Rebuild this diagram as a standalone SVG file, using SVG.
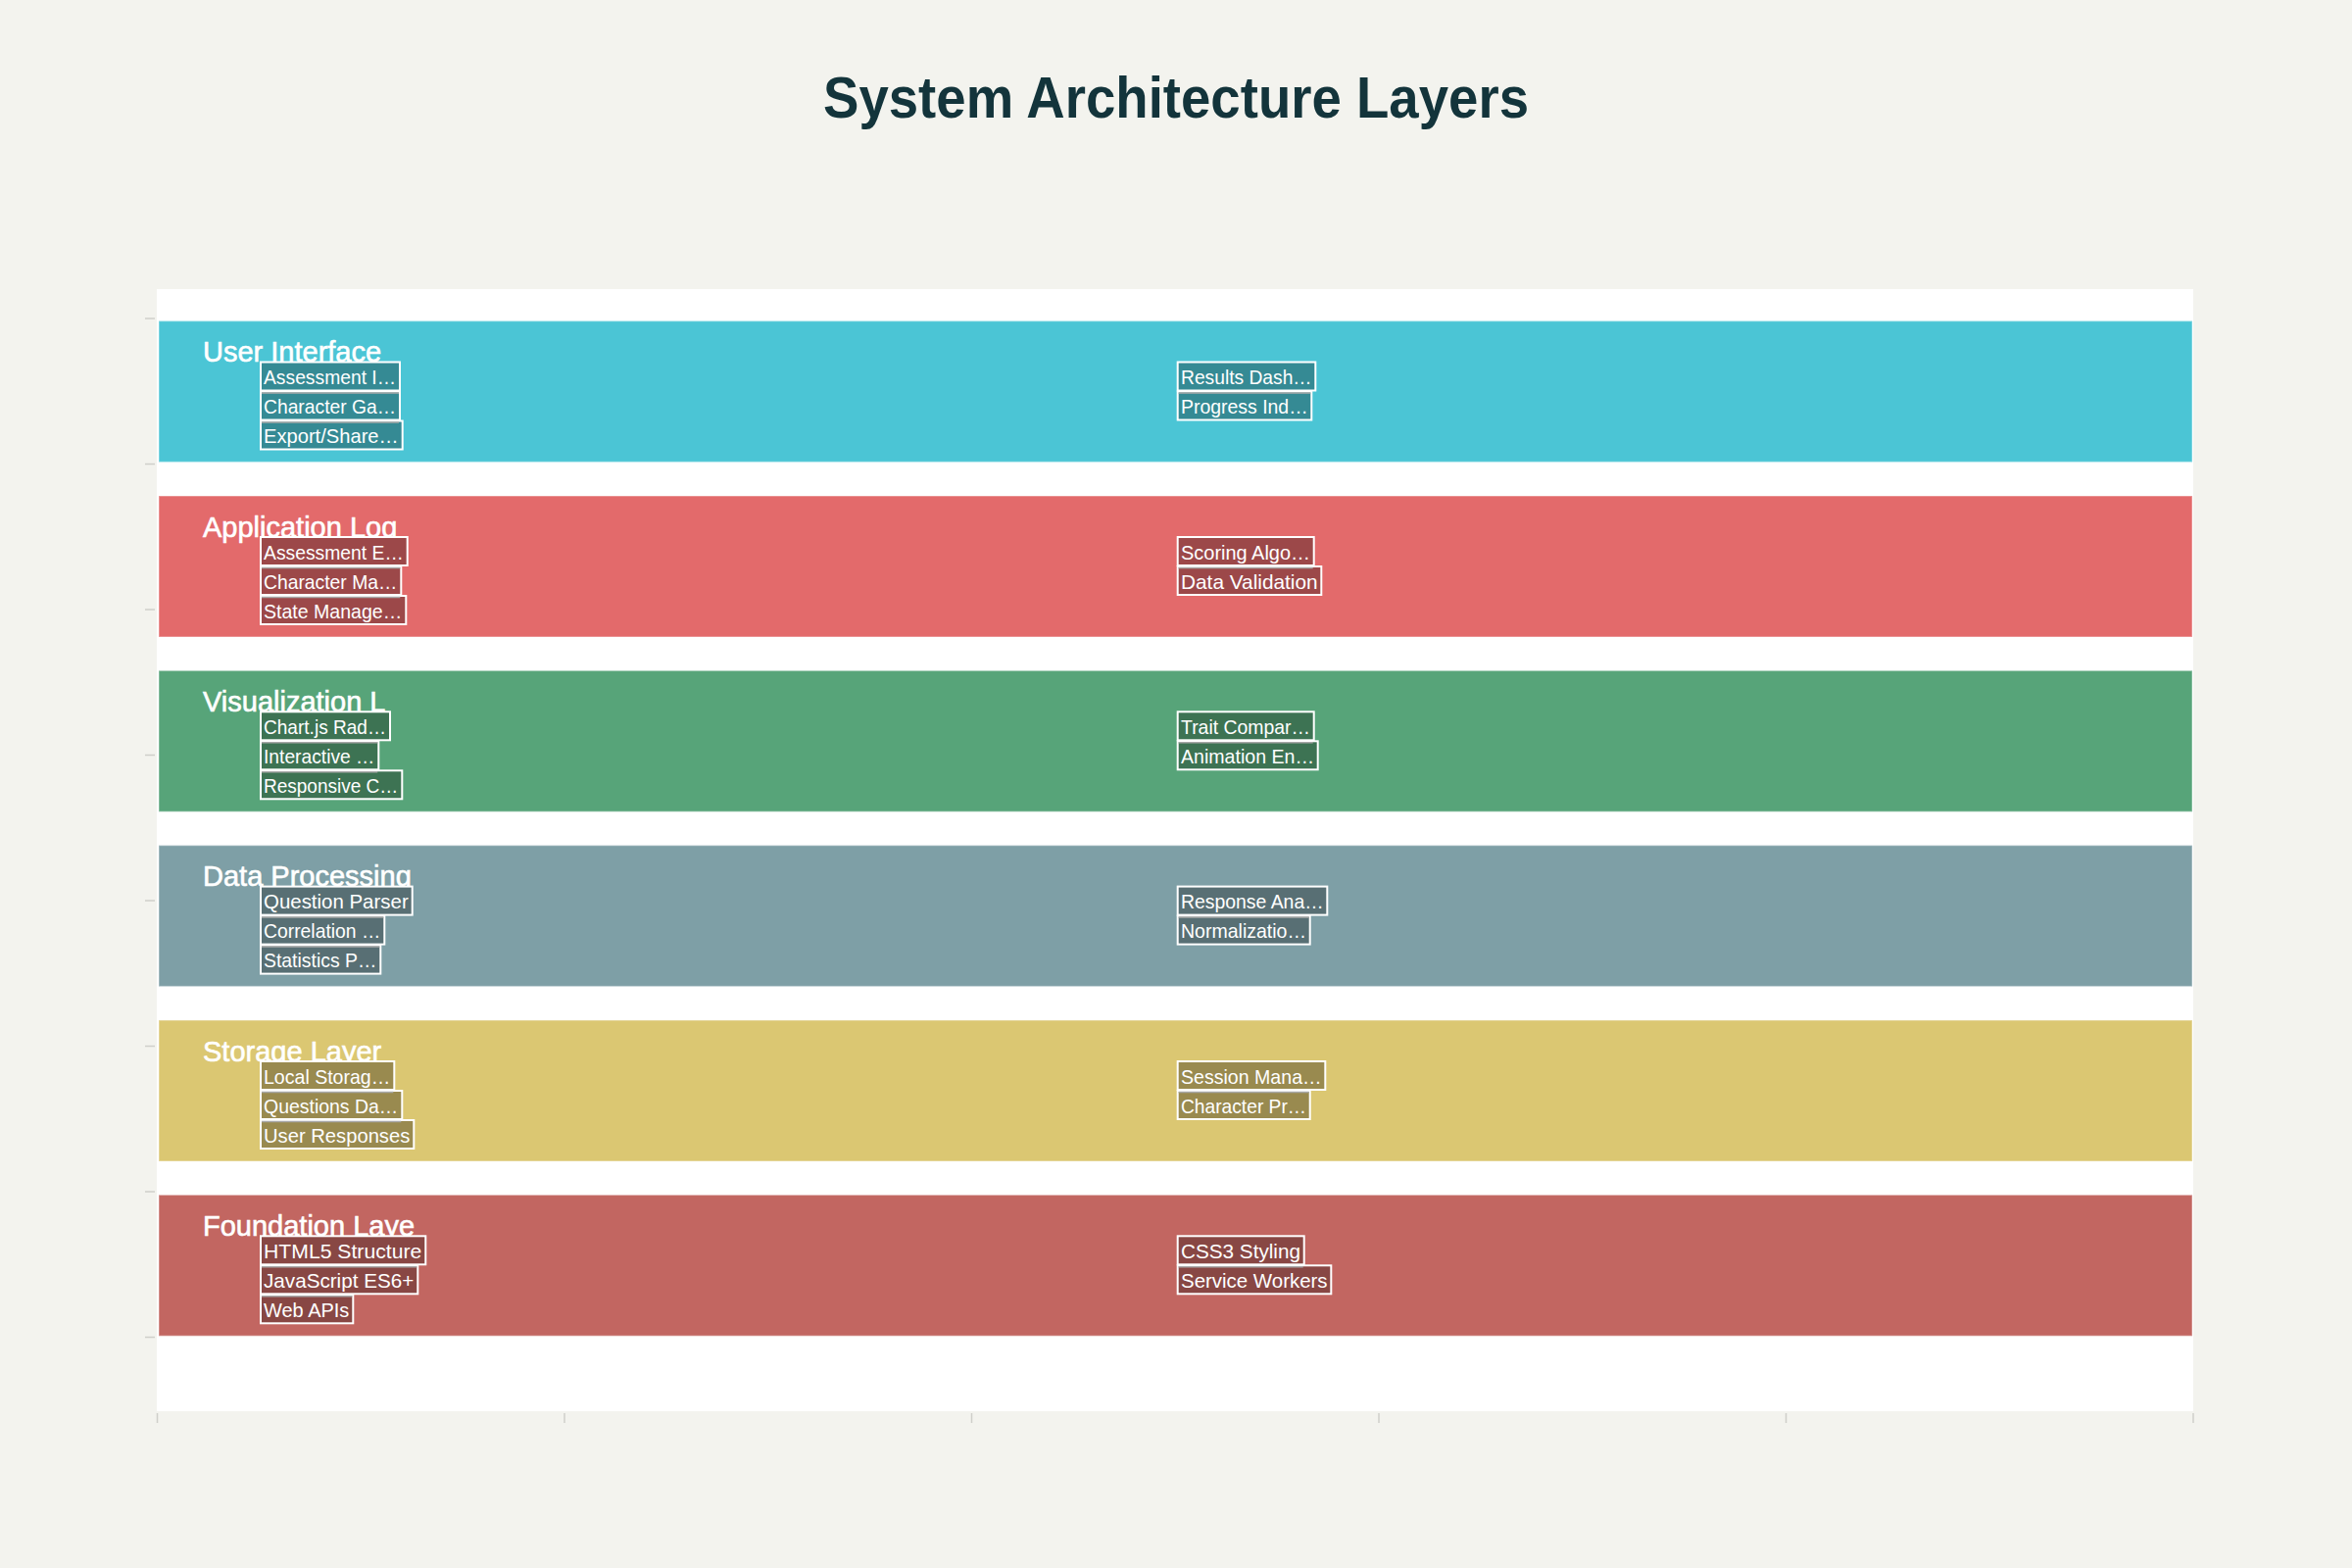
<svg xmlns="http://www.w3.org/2000/svg" width="2400" height="1600" viewBox="0 0 2400 1600">
<style>
.bg{fill:#F3F3EE}
.plot{fill:#FFFFFF}
.tick{stroke:#CFCFCA;stroke-width:1.5}
.title{font-family:"Liberation Sans",Arial,sans-serif;font-size:59px;font-weight:bold;fill:#13343B}
.band{stroke:rgba(255,255,255,0.35);stroke-width:1.5}
.lbl{font-family:"Liberation Sans",Arial,sans-serif;font-size:29px;fill:#FFFFFF;stroke:#FFFFFF;stroke-width:0.6}
.box{stroke:#FFFFFF;stroke-width:2}
.bt{font-family:"Liberation Sans",Arial,sans-serif;font-size:21px;fill:#FFFFFF}
.sh{stroke:#A8A8A8;stroke-width:1.5}
</style>
<rect class="bg" x="0" y="0" width="2400" height="1600"/>
<text class="title" x="1200" y="119.5" text-anchor="middle" textLength="720" lengthAdjust="spacingAndGlyphs">System Architecture Layers</text>
<rect class="plot" x="160" y="295" width="2078" height="1145"/>
<g id="axes">
<line class="tick" x1="148" y1="325" x2="158" y2="325"/>
<line class="tick" x1="148" y1="473.5" x2="158" y2="473.5"/>
<line class="tick" x1="148" y1="622" x2="158" y2="622"/>
<line class="tick" x1="148" y1="770.5" x2="158" y2="770.5"/>
<line class="tick" x1="148" y1="919" x2="158" y2="919"/>
<line class="tick" x1="148" y1="1067.5" x2="158" y2="1067.5"/>
<line class="tick" x1="148" y1="1216" x2="158" y2="1216"/>
<line class="tick" x1="148" y1="1364.5" x2="158" y2="1364.5"/>
<line class="tick" x1="160.5" y1="1442" x2="160.5" y2="1452"/>
<line class="tick" x1="576" y1="1442" x2="576" y2="1452"/>
<line class="tick" x1="991.5" y1="1442" x2="991.5" y2="1452"/>
<line class="tick" x1="1407" y1="1442" x2="1407" y2="1452"/>
<line class="tick" x1="1822.5" y1="1442" x2="1822.5" y2="1452"/>
<line class="tick" x1="2238" y1="1442" x2="2238" y2="1452"/>
</g>

<g id="layer-user-interface" transform="translate(0,327.5)">
<rect class="band" x="162" y="0" width="2075" height="144" fill="#4BC5D5"/>
<text class="lbl" x="207" y="41.5">User Interface</text>
<g fill="#358A94">
<rect class="box" x="266" y="42" width="142" height="29"/>
<text class="bt" x="269" y="64.5" textLength="135" lengthAdjust="spacingAndGlyphs">Assessment I…</text>
<rect class="box" x="266" y="72" width="142" height="29"/>
<line class="sh" x1="267" y1="73.5" x2="407" y2="73.5"/>
<text class="bt" x="269" y="94.5" textLength="135" lengthAdjust="spacingAndGlyphs">Character Ga…</text>
<rect class="box" x="266" y="102" width="144.7" height="29"/>
<line class="sh" x1="267" y1="103.5" x2="407" y2="103.5"/>
<text class="bt" x="269" y="124.5" textLength="137.7" lengthAdjust="spacingAndGlyphs">Export/Share…</text>
<rect class="box" x="1201.7" y="42" width="140.6" height="29"/>
<text class="bt" x="1205" y="64.5" textLength="133.6" lengthAdjust="spacingAndGlyphs">Results Dash…</text>
<rect class="box" x="1201.7" y="72" width="136.6" height="29"/>
<line class="sh" x1="1202.7" y1="73.5" x2="1337.3" y2="73.5"/>
<text class="bt" x="1205" y="94.5" textLength="129.6" lengthAdjust="spacingAndGlyphs">Progress Ind…</text>
</g>
</g>

<g id="layer-application-logic" transform="translate(0,506)">
<rect class="band" x="162" y="0" width="2075" height="144" fill="#E36A6B"/>
<text class="lbl" x="207" y="41.5">Application Log</text>
<g fill="#9C4849">
<rect class="box" x="266" y="42" width="149.7" height="29"/>
<text class="bt" x="269" y="64.5" textLength="142.7" lengthAdjust="spacingAndGlyphs">Assessment E…</text>
<rect class="box" x="266" y="72" width="143.3" height="29"/>
<line class="sh" x1="267" y1="73.5" x2="408.3" y2="73.5"/>
<text class="bt" x="269" y="94.5" textLength="136.3" lengthAdjust="spacingAndGlyphs">Character Ma…</text>
<rect class="box" x="266" y="102" width="148.3" height="29"/>
<line class="sh" x1="267" y1="103.5" x2="408.3" y2="103.5"/>
<text class="bt" x="269" y="124.5" textLength="141.3" lengthAdjust="spacingAndGlyphs">State Manage…</text>
<rect class="box" x="1201.7" y="42" width="139" height="29"/>
<text class="bt" x="1205" y="64.5" textLength="132" lengthAdjust="spacingAndGlyphs">Scoring Algo…</text>
<rect class="box" x="1201.7" y="72" width="146.6" height="29"/>
<line class="sh" x1="1202.7" y1="73.5" x2="1339.7" y2="73.5"/>
<text class="bt" x="1205" y="94.5" textLength="139.6" lengthAdjust="spacingAndGlyphs">Data Validation</text>
</g>
</g>

<g id="layer-visualization" transform="translate(0,684.3)">
<rect class="band" x="162" y="0" width="2075" height="144" fill="#57A479"/>
<text class="lbl" x="207" y="41.5">Visualization L</text>
<g fill="#3D7353">
<rect class="box" x="266" y="42" width="132" height="29"/>
<text class="bt" x="269" y="64.5" textLength="125" lengthAdjust="spacingAndGlyphs">Chart.js Rad…</text>
<rect class="box" x="266" y="72" width="120.3" height="29"/>
<line class="sh" x1="267" y1="73.5" x2="385.3" y2="73.5"/>
<text class="bt" x="269" y="94.5" textLength="113.3" lengthAdjust="spacingAndGlyphs">Interactive …</text>
<rect class="box" x="266" y="102" width="144.3" height="29"/>
<line class="sh" x1="267" y1="103.5" x2="385.3" y2="103.5"/>
<text class="bt" x="269" y="124.5" textLength="137.3" lengthAdjust="spacingAndGlyphs">Responsive C…</text>
<rect class="box" x="1201.7" y="42" width="139" height="29"/>
<text class="bt" x="1205" y="64.5" textLength="132" lengthAdjust="spacingAndGlyphs">Trait Compar…</text>
<rect class="box" x="1201.7" y="72" width="143" height="29"/>
<line class="sh" x1="1202.7" y1="73.5" x2="1339.7" y2="73.5"/>
<text class="bt" x="1205" y="94.5" textLength="136" lengthAdjust="spacingAndGlyphs">Animation En…</text>
</g>
</g>

<g id="layer-data-processing" transform="translate(0,862.6)">
<rect class="band" x="162" y="0" width="2075" height="144" fill="#7E9FA6"/>
<text class="lbl" x="207" y="41.5">Data Processing</text>
<g fill="#586F74">
<rect class="box" x="266" y="42" width="154.7" height="29"/>
<text class="bt" x="269" y="64.5" textLength="147.7" lengthAdjust="spacingAndGlyphs">Question Parser</text>
<rect class="box" x="266" y="72" width="126.3" height="29"/>
<line class="sh" x1="267" y1="73.5" x2="391.3" y2="73.5"/>
<text class="bt" x="269" y="94.5" textLength="119.3" lengthAdjust="spacingAndGlyphs">Correlation …</text>
<rect class="box" x="266" y="102" width="122.3" height="29"/>
<line class="sh" x1="267" y1="103.5" x2="387.3" y2="103.5"/>
<text class="bt" x="269" y="124.5" textLength="115.3" lengthAdjust="spacingAndGlyphs">Statistics P…</text>
<rect class="box" x="1201.7" y="42" width="152.6" height="29"/>
<text class="bt" x="1205" y="64.5" textLength="145.6" lengthAdjust="spacingAndGlyphs">Response Ana…</text>
<rect class="box" x="1201.7" y="72" width="135" height="29"/>
<line class="sh" x1="1202.7" y1="73.5" x2="1335.7" y2="73.5"/>
<text class="bt" x="1205" y="94.5" textLength="128" lengthAdjust="spacingAndGlyphs">Normalizatio…</text>
</g>
</g>

<g id="layer-storage" transform="translate(0,1041)">
<rect class="band" x="162" y="0" width="2075" height="144" fill="#DBC772"/>
<text class="lbl" x="207" y="41.5">Storage Layer</text>
<g fill="#998A4F">
<rect class="box" x="266" y="42" width="136.3" height="29"/>
<text class="bt" x="269" y="64.5" textLength="129.3" lengthAdjust="spacingAndGlyphs">Local Storag…</text>
<rect class="box" x="266" y="72" width="144.3" height="29"/>
<line class="sh" x1="267" y1="73.5" x2="401.3" y2="73.5"/>
<text class="bt" x="269" y="94.5" textLength="137.3" lengthAdjust="spacingAndGlyphs">Questions Da…</text>
<rect class="box" x="266" y="102" width="156.3" height="29"/>
<line class="sh" x1="267" y1="103.5" x2="409.3" y2="103.5"/>
<text class="bt" x="269" y="124.5" textLength="149.3" lengthAdjust="spacingAndGlyphs">User Responses</text>
<rect class="box" x="1201.7" y="42" width="150.6" height="29"/>
<text class="bt" x="1205" y="64.5" textLength="143.6" lengthAdjust="spacingAndGlyphs">Session Mana…</text>
<rect class="box" x="1201.7" y="72" width="135" height="29"/>
<line class="sh" x1="1202.7" y1="73.5" x2="1335.7" y2="73.5"/>
<text class="bt" x="1205" y="94.5" textLength="128" lengthAdjust="spacingAndGlyphs">Character Pr…</text>
</g>
</g>

<g id="layer-foundation" transform="translate(0,1219.3)">
<rect class="band" x="162" y="0" width="2075" height="144" fill="#C26661"/>
<text class="lbl" x="207" y="41.5">Foundation Laye</text>
<g fill="#884744">
<rect class="box" x="266" y="42" width="168.3" height="29"/>
<text class="bt" x="269" y="64.5" textLength="161.3" lengthAdjust="spacingAndGlyphs">HTML5 Structure</text>
<rect class="box" x="266" y="72" width="160.3" height="29"/>
<line class="sh" x1="267" y1="73.5" x2="425.3" y2="73.5"/>
<text class="bt" x="269" y="94.5" textLength="153.3" lengthAdjust="spacingAndGlyphs">JavaScript ES6+</text>
<rect class="box" x="266" y="102" width="94.3" height="29"/>
<line class="sh" x1="267" y1="103.5" x2="359.3" y2="103.5"/>
<text class="bt" x="269" y="124.5" textLength="87.3" lengthAdjust="spacingAndGlyphs">Web APIs</text>
<rect class="box" x="1201.7" y="42" width="129" height="29"/>
<text class="bt" x="1205" y="64.5" textLength="122" lengthAdjust="spacingAndGlyphs">CSS3 Styling</text>
<rect class="box" x="1201.7" y="72" width="156.6" height="29"/>
<line class="sh" x1="1202.7" y1="73.5" x2="1329.7" y2="73.5"/>
<text class="bt" x="1205" y="94.5" textLength="149.6" lengthAdjust="spacingAndGlyphs">Service Workers</text>
</g>
</g>
</svg>
